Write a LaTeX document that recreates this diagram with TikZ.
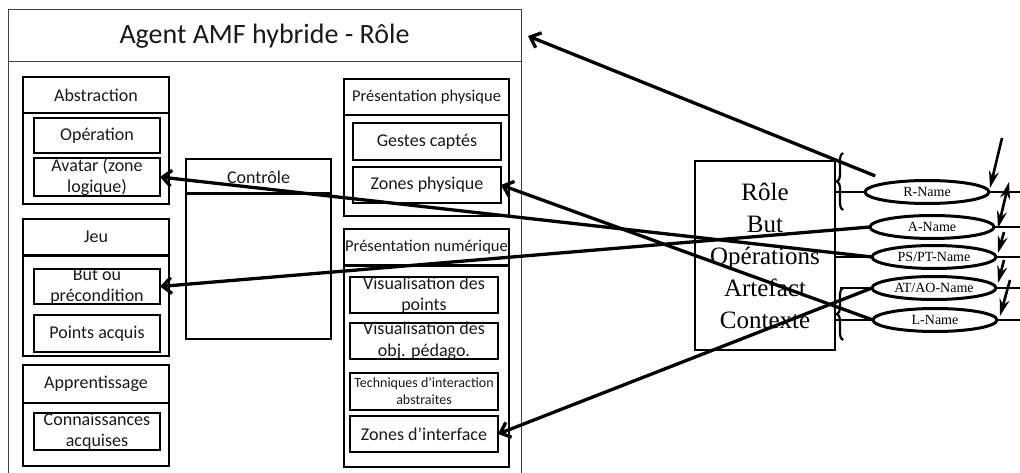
\documentclass[tikz,border=0pt]{standalone}
\usepackage{fontspec}
\setmainfont{Carlito}
\newfontfamily\rmserif{Liberation Serif}
\usetikzlibrary{arrows.meta,decorations.pathreplacing,calc,shapes.geometric}
\newcommand{\fsz}[2]{\fontsize{#1}{#2}\selectfont}

\tikzset{
  every node/.style={inner sep=0pt, outer sep=0pt},
  frame/.style={draw=black!75, line width=1pt},
  panel/.style={draw, line width=1.6pt, anchor=north west},
  cell/.style={draw, line width=2.4pt, anchor=north west},
  hsep/.style={line width=1.6pt},
  hsepbold/.style={line width=3pt},
  ctext/.style={font=\fsz{18}{21.5}, align=center, text=black!90},
  htext/.style={font=\fsz{16.5}{20}, text=black!90},
  ttext/.style={font=\fsz{14}{17}, align=center, text=black!90},
  link/.style={line width=3.3pt, -{Straight Barb[length=9pt,width=16pt]}},
  oval/.style={ellipse, draw, line width=3pt, minimum width=124pt, minimum height=23pt, font=\rmserif\fsz{14}{16}},
  tie/.style={line width=1.5pt},
  hook/.style={line width=2.2pt, decorate, decoration={brace, amplitude=6pt}},
  nudge/.style={line width=2.6pt, -{Stealth[length=17pt,width=10pt]}},
  nudgeboth/.style={line width=2.6pt, {Stealth[length=17pt,width=10pt]}-{Stealth[length=17pt,width=10pt]}},
}

\begin{document}
\begin{tikzpicture}[x=1pt, y=-1pt]
\useasboundingbox (0,0) rectangle (1020,473);

% ---- agent frame and title bar ----
\node[frame, anchor=north west, minimum width=513pt, minimum height=480pt] (agent) at (8,10) {};
\draw[frame] ([yshift=-52pt]agent.north west) -- ([yshift=-52pt]agent.north east);
\node[font=\fsz{28}{32}, text=black!90] (title) at (264.5,36) {Agent AMF hybride - Rôle};
\coordinate[xshift=7pt] (ttip) at (title -| agent.east);

% ---- Abstraction ----
\node[panel, minimum width=146pt, minimum height=127pt] (abs) at (23,77) {};
\draw[hsep] ([yshift=-36pt]abs.north west) -- ([yshift=-36pt]abs.north east);
\node[htext, font=\fsz{18}{21}] (absh) at (96,95) {Abstraction};
\node[cell, minimum width=126pt, minimum height=35pt, label={[ctext]center:Opération}] (op) at (34,118) {};
\node[cell, minimum width=126pt, minimum height=38pt, label={[ctext]center:{Avatar (zone\\logique)}}] (avatar) at (34,158) {};

% ---- Jeu ----
\node[panel, minimum width=146pt, minimum height=137pt] (jeu) at (23,219) {};
\draw[hsepbold] ([yshift=-36pt]jeu.north west) -- ([yshift=-36pt]jeu.north east);
\node[htext, font=\fsz{18}{21}] (jeuh) at (96,237) {Jeu};
\node[cell, minimum width=126pt, minimum height=35pt, label={[ctext]center:{But ou\\précondition}}] (but) at (34,269) {};
\node[cell, minimum width=126pt, minimum height=37pt, label={[ctext]center:Points acquis}] (pts) at (34,315) {};

% ---- Apprentissage ----
\node[panel, minimum width=146pt, minimum height=101pt] (app) at (23,365) {};
\draw[hsep] ([yshift=-38pt]app.north west) -- ([yshift=-38pt]app.north east);
\node[htext, font=\fsz{18}{21}] (apph) at (96,384) {Apprentissage};
\node[cell, minimum width=126pt, minimum height=37pt, label={[ctext]center:{Connaissances\\acquises}}] (conn) at (34,413) {};

% ---- Contrôle ----
\node[panel, minimum width=145pt, minimum height=180pt] (ctrl) at (186,159) {};
\draw[hsepbold] ([yshift=-35pt]ctrl.north west) -- ([yshift=-35pt]ctrl.north east);
\node[htext, font=\fsz{18}{21}] (ctrlh) at (258.5,177) {Contrôle};

% ---- Présentation physique ----
\node[panel, minimum width=165pt, minimum height=137pt] (pphy) at (344,79) {};
\draw[hsep] ([yshift=-36pt]pphy.north west) -- ([yshift=-36pt]pphy.north east);
\node[htext] (pphyh) at (426.5,97) {Présentation physique};
\node[cell, minimum width=148pt, minimum height=37pt, label={[ctext]center:Gestes captés}] (gestes) at (353,123) {};
\node[cell, minimum width=148pt, minimum height=36pt, label={[ctext]center:Zones physique}] (zphys) at (353,167) {};

% ---- Présentation numérique ----
\node[panel, minimum width=165pt, minimum height=238pt] (pnum) at (344,229) {};
\draw[hsepbold] ([yshift=-36pt]pnum.north west) -- ([yshift=-36pt]pnum.north east);
\node[htext] (pnumh) at (426.5,247) {Présentation numérique};
\node[cell, minimum width=148pt, minimum height=36pt, label={[ctext]center:{Visualisation des\\points}}] (vpts) at (350,277) {};
\node[cell, minimum width=148pt, minimum height=36pt, label={[ctext]center:{Visualisation des\\obj. pédago.}}] (vobj) at (350,323) {};
\node[cell, minimum width=148pt, minimum height=37pt, label={[ttext]center:{Techniques d’interaction\\abstraites}}] (tech) at (350,373) {};
\node[cell, minimum width=148pt, minimum height=36pt, label={[ctext]center:Zones d’interface}] (zint) at (350,416) {};

% ---- role descriptor ----
\node[draw, line width=1.6pt, anchor=north west, minimum width=140pt, minimum height=189pt,
      font=\rmserif\fsz{25}{32}, align=center] (role) at (695,161)
      {Rôle\\But\\Opérations\\Artefact\\Contexte};

\node[oval] (rname)  at (927,192) {R-Name};
\node[oval] (aname)  at (932,227) {A-Name};
\node[oval] (psname) at (934,257) {PS/PT-Name};
\node[oval] (atname) at (934,288) {AT/AO-Name};
\node[oval] (lname)  at (935,320) {L-Name};

\coordinate (rim) at (1020,0);
\foreach \n in {rname,aname,psname,atname,lname}
  \draw[tie] (\n.east) -- (\n.east -| rim);
\foreach \n in {rname,psname,lname}
  \draw[tie] (\n.west) -- (\n.west -| role.east);
\draw[tie] (atname.west) -- ($(atname.west -| role.east)+(5pt,0pt)$);

\draw[hook] (843,210) -- (843,153);
\draw[hook] (843,340) -- (843,288);

% ---- links between the name slots ----
\coordinate (s1) at (1002,138);
\draw[nudge] (s1) -- ([shift={(1pt,4pt)}]rname.east);
\draw[nudgeboth] ([shift={(20pt,10pt)}]rname.east) -- ([shift={(4pt,-1pt)}]aname.east);
\draw[nudge] ([shift={(10pt,-5pt)}]aname.east) -- ([shift={(2pt,4pt)}]psname.east);
\draw[nudge] ([shift={(8pt,-3pt)}]psname.east) -- ([shift={(2pt,5pt)}]atname.east);
\draw[nudge] ([shift={(14pt,8pt)}]atname.east) -- ([shift={(3pt,4pt)}]lname.east);

% ---- links to the agent facets ----
\draw[link] ($(rname.north west)+(-8pt,8pt)$) -- (ttip);
\draw[link] (psname.west) -- (avatar.east);
\draw[link] (aname.west) -- (but.east);
\draw[link] (lname.west) -- (zphys.east);
\draw[link] (atname.west) -- (zint.east);
\end{tikzpicture}
\end{document}
